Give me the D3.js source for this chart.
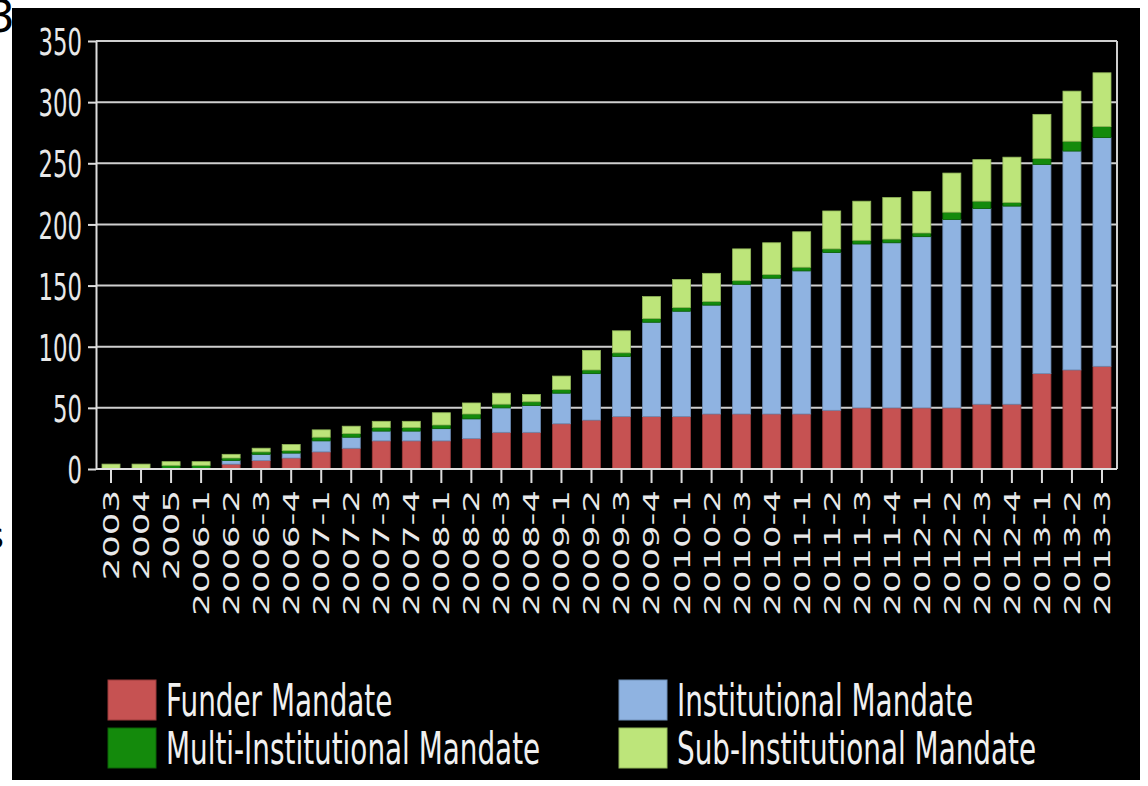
<!DOCTYPE html>
<html><head><meta charset="utf-8">
<script src="https://cdn.jsdelivr.net/npm/d3@7"></script>
<style>html,body{margin:0;padding:0;background:#fff;}svg{display:block;}</style>
</head><body>
<svg id="c" width="1148" height="786"></svg>
<script>
const categories = ["2003","2004","2005","2006-1","2006-2","2006-3","2006-4","2007-1","2007-2","2007-3","2007-4","2008-1","2008-2","2008-3","2008-4","2009-1","2009-2","2009-3","2009-4","2010-1","2010-2","2010-3","2010-4","2011-1","2011-2","2011-3","2011-4","2012-1","2012-2","2012-3","2012-4","2013-1","2013-2","2013-3"];
const funderMandate =    [0,0,0,0,4,7,9,14,17,23,23,23,25,30,30,37,40,43,43,43,45,45,45,45,48,50,50,50,50,53,53,78,81,84];
const institutionalMandate = [0,0,0,0,3,5,4,9,9,8,8,10,16,20,22,25,38,49,77,86,89,106,111,117,129,134,135,140,154,160,162,171,179,187];
const multiInstitutionalMandate = [0,0,3,3,2,2,2,3,3,3,3,3,4,3,3,3,3,3,3,3,3,3,3,3,3,3,3,3,6,6,3,5,8,9];
const subInstitutionalMandate = [4,4,3,3,3,3,5,6,6,5,5,10,9,9,6,11,16,18,18,23,23,26,26,29,31,32,34,34,32,34,37,36,41,44];
const yTicks = [0,50,100,150,200,250,300,350];
const seriesNames = ["Funder Mandate","Institutional Mandate","Multi-Institutional Mandate","Sub-Institutional Mandate"];
const seriesColors = ["#c65252","#8fb3e1","#148a0c","#bde57a"];
const seriesStrokes = ["#9a3a3a","#6f8fb8","#0b6206","#93b85a"];

const font = "'DejaVu Sans', sans-serif";
const SX = 0.6;
const svg = d3.select("#c");

// page fragments + black panel
svg.append("text").attr("x",-13).attr("y",32).attr("font-family",font).attr("font-size",44).attr("fill","#000").text("3");
svg.append("text").attr("x",4).attr("y",548).attr("text-anchor","end").attr("font-family",font).attr("font-size",36).attr("fill","#000").text("s");
svg.append("rect").attr("x",12).attr("y",8).attr("width",1128).attr("height",772).attr("fill","#000");

const x = d3.scaleBand().domain(categories).range([96,1117]).paddingInner(0.4).paddingOuter(0.2);
const y = d3.scaleLinear().domain([0,350]).range([469,41]);

// gridlines
svg.append("g").selectAll("line").data(yTicks).join("line")
  .attr("x1",96).attr("x2",1117).attr("y1",d=>y(d)).attr("y2",d=>y(d))
  .attr("stroke","#cfcfcf").attr("stroke-width",2);
// right border
svg.append("line").attr("x1",1117).attr("x2",1117).attr("y1",y(350)).attr("y2",y(0)).attr("stroke","#cfcfcf").attr("stroke-width",2);

// stacked data
const rows = categories.map((c,i)=>({cat:c, s0:funderMandate[i], s1:institutionalMandate[i], s2:multiInstitutionalMandate[i], s3:subInstitutionalMandate[i]}));
const stack = d3.stack().keys(["s0","s1","s2","s3"])(rows);
svg.append("g").selectAll("g").data(stack).join("g")
  .attr("fill",(d,i)=>seriesColors[i]).attr("stroke",(d,i)=>seriesStrokes[i])
  .selectAll("rect").data(d=>d.filter(e=>e[1]-e[0]>0)).join("rect")
  .attr("x",d=>x(d.data.cat)).attr("width",x.bandwidth())
  .attr("y",d=>y(d[1])).attr("height",d=>y(d[0])-y(d[1]))
  .attr("stroke-width",0.8);

// y axis
const ya = svg.append("g").attr("transform","translate(96,0)")
  .call(d3.axisLeft(y).tickValues(yTicks).tickSize(8).tickSizeOuter(0));
ya.select(".domain").attr("stroke","#dedede").attr("stroke-width",2);
ya.selectAll(".tick line").attr("stroke","#dedede").attr("stroke-width",2);
ya.selectAll(".tick text").attr("x",0).attr("dy","0.36em")
  .attr("transform",`translate(-14,0) scale(${SX},1)`)
  .attr("fill","#e8e8e8").attr("font-family",font).attr("font-size",38);

// x axis
const xa = svg.append("g").attr("transform","translate(0,469)")
  .call(d3.axisBottom(x).tickSize(14).tickSizeOuter(0));
xa.select(".domain").attr("stroke","#dedede").attr("stroke-width",2).attr("d","M96,0H1117");
xa.selectAll(".tick line").attr("stroke","#dedede").attr("stroke-width",2);
xa.selectAll(".tick text").attr("x",0).attr("y",0).attr("dy","0.36em")
  .attr("text-anchor","end")
  .attr("transform",`translate(0,21) scale(0.62,1) rotate(-90)`)
  .attr("fill","#e8e8e8").attr("font-family",font).attr("font-size",35.5);

// legend
const legendPos = [[108,680],[619,680],[108,728],[619,728]];
const order = [0,1,2,3];
const lg = svg.append("g").selectAll("g").data(order).join("g")
  .attr("transform",i=>`translate(${legendPos[i][0]},${legendPos[i][1]})`);
lg.append("rect").attr("width",48).attr("height",40)
  .attr("fill",i=>seriesColors[i]).attr("stroke",i=>seriesStrokes[i]).attr("stroke-width",1);
lg.append("text").attr("transform",`translate(58,20) scale(0.633,1)`).attr("dy","0.36em")
  .attr("fill","#f0f0f0").attr("font-family",font).attr("font-size",44)
  .text(i=>seriesNames[i]);
</script>
</body></html>
